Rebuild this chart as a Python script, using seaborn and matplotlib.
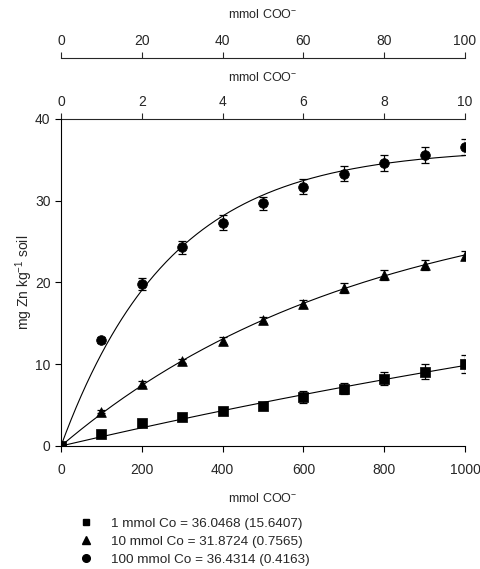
import numpy as np
import pandas as pd
import matplotlib
matplotlib.use("Agg")
import matplotlib.pyplot as plt
import seaborn as sns
from matplotlib.lines import Line2D

sns.set_style("ticks")
plt.rcParams['font.family'] = ['Liberation Sans', 'DejaVu Sans']
plt.rcParams['mathtext.fontset'] = 'custom'
plt.rcParams['mathtext.rm'] = 'Liberation Sans'
plt.rcParams['mathtext.it'] = 'Liberation Sans'
plt.rcParams['mathtext.default'] = 'regular'

# ---- data ----
coo = [0, 100, 200, 300, 400, 500, 600, 700, 800, 900, 1000]
zn_1 = [0, 1.5, 2.8, 3.6, 4.3, 4.9, 6.0, 7.0, 8.2, 9.1, 10.0]
err_1 = [0, 0.2, 0.3, 0.3, 0.3, 0.4, 0.7, 0.7, 0.8, 0.9, 1.1]
zn_10 = [0, 4.2, 7.6, 10.4, 12.9, 15.4, 17.4, 19.3, 20.9, 22.1, 23.3]
err_10 = [0, 0.2, 0.3, 0.3, 0.4, 0.4, 0.5, 0.6, 0.6, 0.6, 0.6]
zn_100 = [0, 13.0, 19.8, 24.3, 27.3, 29.7, 31.7, 33.3, 34.6, 35.6, 36.6]
err_100 = [0, 0.35, 0.7, 0.8, 0.9, 0.8, 0.9, 0.9, 1.0, 1.0, 1.0]
asym = [36.0468, 31.8724, 36.4314]
asym_se = [15.6407, 0.7565, 0.4163]
labels = ["1 mmol Co", "10 mmol Co", "100 mmol Co"]
markers = ["s", "^", "o"]
msizes = [6.5, 7, 7]

fig = plt.figure(figsize=(4.81, 5.69), dpi=100)
ax = fig.add_axes([0.1268, 0.2162, 0.84, 0.5747])

series = [(zn_1, err_1), (zn_10, err_10), (zn_100, err_100)]
xx = np.linspace(0, 1000, 400)
x_arr = np.array(coo, dtype=float)
handles = []
for (y, e), a, se, lab, m, ms in zip(series, asym, asym_se, labels, markers, msizes):
    y_arr = np.array(y, dtype=float)
    # fit rate constant of y = a(1 - exp(-k x)) by least squares
    ks = np.linspace(1e-5, 0.01, 20000)
    sse = [np.sum((y_arr - a * (1 - np.exp(-k * x_arr))) ** 2) for k in ks]
    k = ks[int(np.argmin(sse))]
    fit = pd.DataFrame({"x": xx, "y": a * (1 - np.exp(-k * xx))})
    sns.lineplot(data=fit, x="x", y="y", ax=ax, color="black", lw=0.8)
    ax.errorbar(coo, y, yerr=e, fmt="none", ecolor="black", elinewidth=0.9,
                capsize=2.6, capthick=0.9, zorder=3)
    df = pd.DataFrame({"x": coo, "y": y})
    sns.scatterplot(data=df, x="x", y="y", ax=ax, marker=m, s=ms ** 2,
                    color="black", edgecolor="black", linewidth=0.5, zorder=4)
    handles.append(Line2D([], [], ls="none", marker=m, color="black",
                          markersize=ms - 1.5,
                          label=f"{lab} = {a:.4f} ({se:.4f})"))

ax.set_xlim(0, 1000)
ax.set_ylim(0, 40)
ax.set_xticks(np.arange(0, 1001, 200))
ax.set_yticks(np.arange(0, 41, 10))
ax.tick_params(labelsize=10, length=4, width=0.8, direction="out", color="black")
ax.tick_params(axis="x", pad=8)
ax.set_xlabel(r"mmol COO$^{-}$", fontsize=9, labelpad=11)
ax.set_ylabel(r"mg Zn kg$^{-1}$ soil", fontsize=10, labelpad=0)
for s in ["top", "right"]:
    ax.spines[s].set_visible(False)
for s in ["left", "bottom"]:
    ax.spines[s].set_linewidth(0.8)
    ax.spines[s].set_color("black")

sec1 = ax.secondary_xaxis("top", functions=(lambda v: v / 100, lambda v: v * 100))
sec1.set_xticks(np.arange(0, 11, 2))
sec1.tick_params(labelsize=10, length=4, width=0.8, direction="out")
sec1.set_xlabel(r"mmol COO$^{-}$", fontsize=9, labelpad=10)
sec1.spines["top"].set_linewidth(0.8)

sec2 = ax.secondary_xaxis(1.1865, functions=(lambda v: v / 10, lambda v: v * 10))
sec2.set_xticks(np.arange(0, 101, 20))
sec2.tick_params(labelsize=10, length=4, width=0.8, direction="out")
sec2.set_xlabel(r"mmol COO$^{-}$", fontsize=9, labelpad=11)
sec2.spines["top"].set_linewidth(0.8)

if ax.get_legend() is not None:
    ax.get_legend().remove()

fig.legend(handles=handles, loc="upper left", bbox_to_anchor=(0.164, 0.091),
           frameon=False, fontsize=9.7, handletextpad=1.4, labelspacing=0.42,
           handlelength=1.0, borderaxespad=0, borderpad=0)

fig.savefig("out.png", dpi=100)
